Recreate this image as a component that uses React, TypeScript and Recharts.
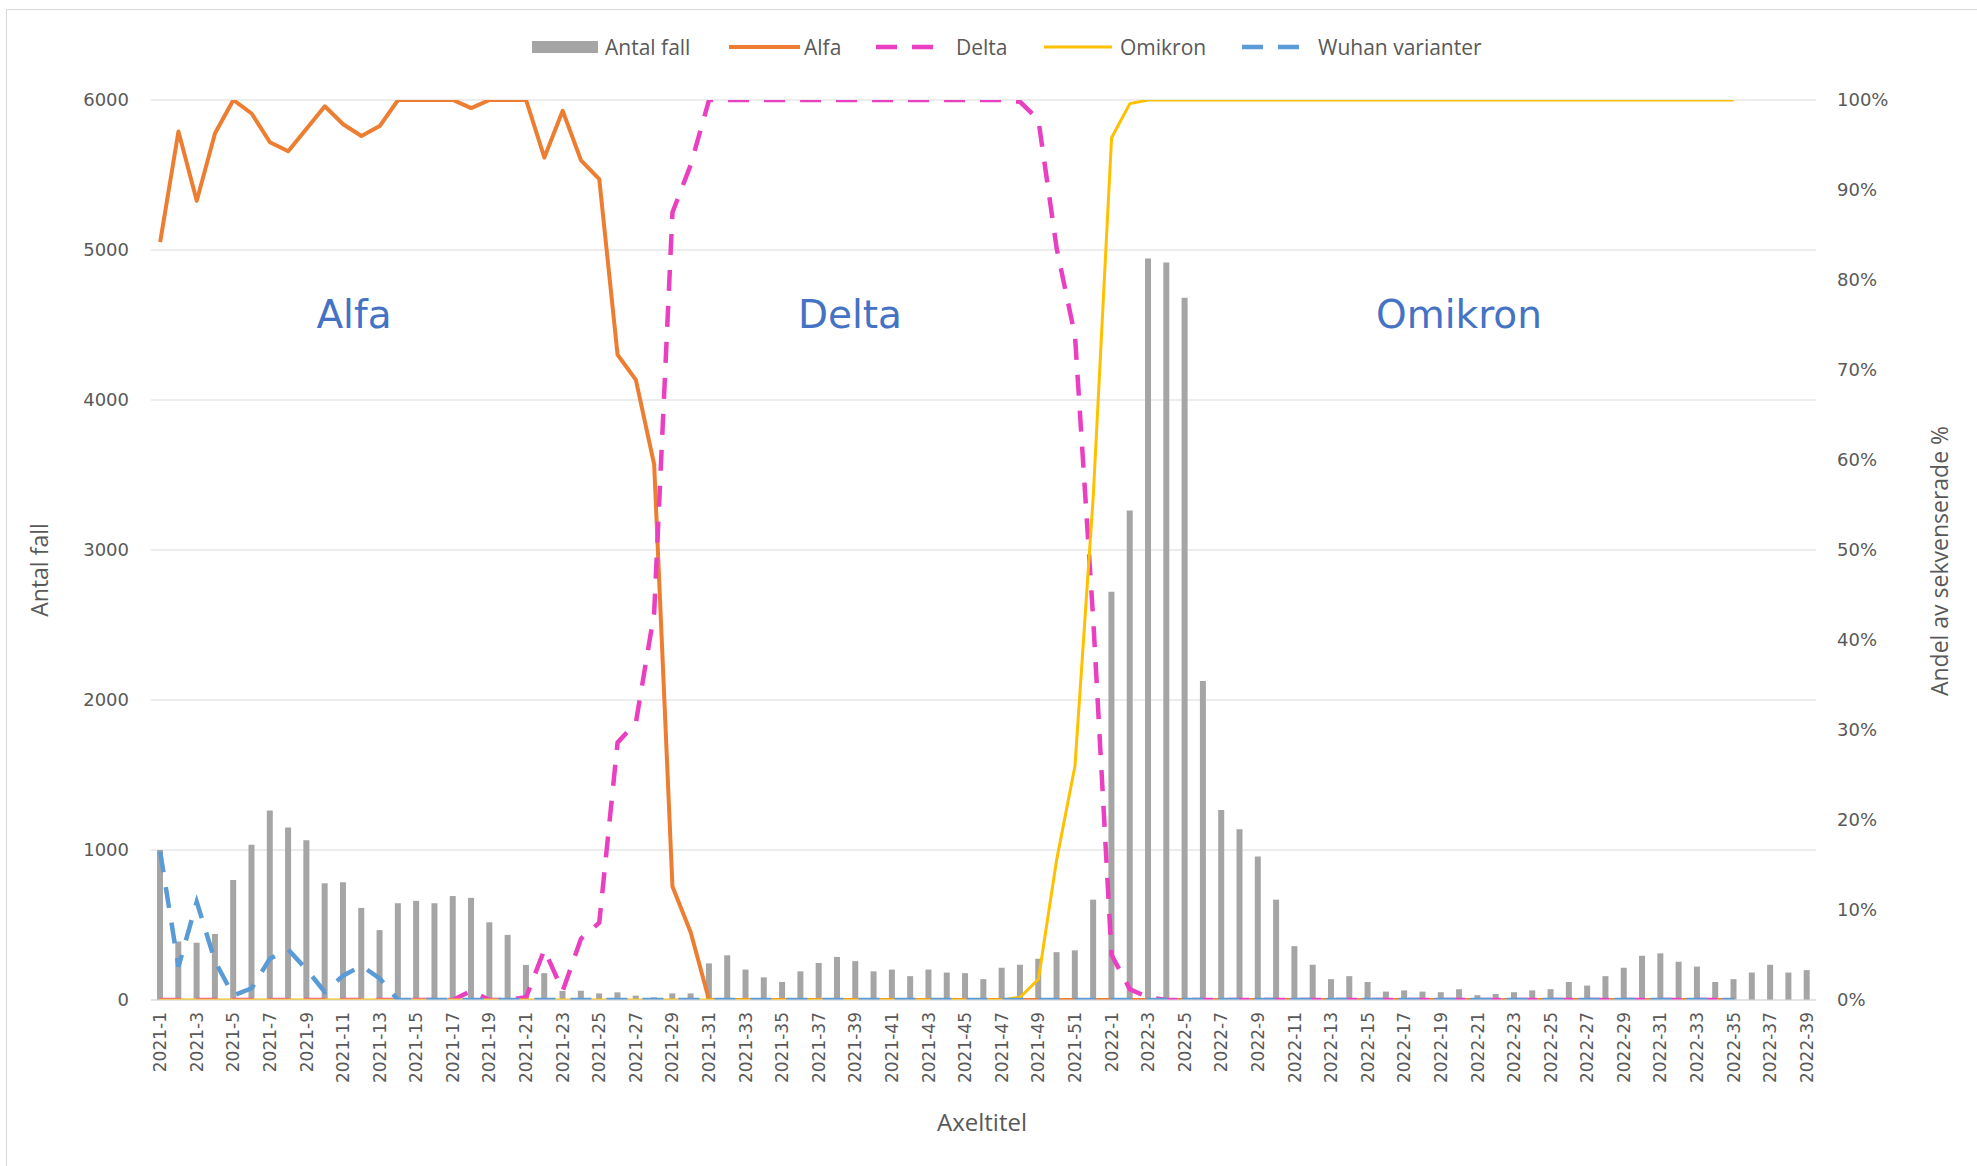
import React from 'react';
import { ComposedChart, Bar, Line, XAxis, YAxis, CartesianGrid, Legend } from 'recharts';

const weeks2021 = Array.from({ length: 52 }, (_, i) => `2021-${i + 1}`);
const weeks2022 = Array.from({ length: 39 }, (_, i) => `2022-${i + 1}`);
const categories = [...weeks2021, ...weeks2022];

const leftTicks = [0, 1000, 2000, 3000, 4000, 5000, 6000];
const rightTicks = [0, 10, 20, 30, 40, 50, 60, 70, 80, 90, 100];

const cases2021 = [
  1000, 390, 382, 440, 800, 1035, 1263, 1150, 1065, 778,
  785, 614, 466, 645, 661, 645, 693, 681, 518, 434,
  234, 179, 60, 62, 44, 51, 29, 18, 44, 44,
  244, 298, 203, 151, 120, 191, 247, 287, 259, 191,
  203, 159, 203, 183, 179, 139, 215, 235, 275, 319,
  331, 669,
];
const cases2022 = [
  2721, 3263, 4944, 4916, 4681, 2127, 1267, 1139, 956, 669,
  359, 235, 139, 159, 120, 56, 64, 56, 52, 72,
  32, 40, 52, 64, 72, 120, 96, 159, 215, 295,
  311, 255, 223, 120, 139, 183, 235, 183, 199,
];

const alfa2021 = [
  84.2, 96.5, 88.8, 96.3, 100, 98.5, 95.3, 94.3, 96.8, 99.3,
  97.3, 96.0, 97.1, 100, 100, 100, 100, 99.1, 100, 100,
  100, 93.6, 98.8, 93.3, 91.2, 71.7, 68.9, 59.5, 12.6, 7.5,
  0, 0, 0, 0, 0, 0, 0, 0, 0, 0,
  0, 0, 0, 0, 0, 0, 0, 0, 0, 0,
  0, 0,
];
const alfa2022 = [
  0, 0, 0, 0, 0, 0, 0, 0, 0, 0,
  0, 0, 0, 0, 0, 0, 0, 0, 0, 0,
  0, 0, 0, 0, 0, 0, 0, 0, 0, 0,
  0, 0, 0, 0, 0, null, null, null, null,
];

const delta2021 = [
  0, 0, 0, 0, 0, 0, 0, 0, 0, 0,
  0, 0, 0, 0, 0, 0, 0, 1.0, 0, 0,
  0.3, 5.6, 1.0, 6.8, 8.6, 28.6, 30.8, 43, 87.5, 92.8,
  100, 100, 100, 100, 100, 100, 100, 100, 100, 100,
  100, 100, 100, 100, 100, 100, 100, 99.8, 97.8, 83.5,
  73.8, 42.2,
];
const delta2022 = [
  5.0, 1.2, 0.3, 0, 0, 0, 0, 0, 0, 0,
  0, 0, 0, 0, 0, 0, 0, 0, 0, 0,
  0, 0, 0, 0, 0, 0, 0, 0, 0, 0,
  0, 0, 0, 0, 0, null, null, null, null,
];

const omikron2021 = [
  0, 0, 0, 0, 0, 0, 0, 0, 0, 0,
  0, 0, 0, 0, 0, 0, 0, 0, 0, 0,
  0, 0, 0, 0, 0, 0, 0, 0, 0, 0,
  0, 0, 0, 0, 0, 0, 0, 0, 0, 0,
  0, 0, 0, 0, 0, 0, 0, 0.3, 2.3, 15.6,
  26, 56,
];
const omikron2022 = [
  95.8, 99.6, 100, 100, 100, 100, 100, 100, 100, 100,
  100, 100, 100, 100, 100, 100, 100, 100, 100, 100,
  100, 100, 100, 100, 100, 100, 100, 100, 100, 100,
  100, 100, 100, 100, 100, null, null, null, null,
];

const wuhan2021 = [
  16.5, 3.7, 10.9, 4.3, 0.5, 1.3, 4.6, 5.6, 3.4, 0.9,
  2.7, 3.8, 2.4, 0, 0, 0, 0, 0, 0, 0,
  0, 0, 0, 0, 0, 0, 0, 0, 0, 0,
  0, 0, 0, 0, 0, 0, 0, 0, 0, 0,
  0, 0, 0, 0, 0, 0, 0, 0, 0, 0,
  0, 0,
];
const wuhan2022 = [
  0, 0, 0, 0, 0, 0, 0, 0, 0, 0,
  0, 0, 0, 0, 0, 0, 0, 0, 0, 0,
  0, 0, 0, 0, 0, 0, 0, 0, 0, 0,
  0, 0, 0, 0, 0, null, null, null, null,
];

const cases = [...cases2021, ...cases2022];
const alfa = [...alfa2021, ...alfa2022];
const delta = [...delta2021, ...delta2022];
const omikron = [...omikron2021, ...omikron2022];
const wuhan = [...wuhan2021, ...wuhan2022];

const data = categories.map((week, i) => ({
  week,
  antal: cases[i],
  alfa: alfa[i],
  delta: delta[i],
  omikron: omikron[i],
  wuhan: wuhan[i],
}));

const GRAY = '#A5A5A5';
const ORANGE = '#ED7D31';
const PINK = '#EA3FC0';
const YELLOW = '#FFC000';
const BLUE = '#5B9BD5';
const TEXT = '#595959';
const GRID = '#D9D9D9';
const DASH = '21 15';

const XTick = (props: any) => {
  const { x, y, payload } = props;
  return (
    <text
      x={x}
      y={y}
      transform={`rotate(-90, ${x}, ${y})`}
      textAnchor="end"
      dominantBaseline="central"
      fontFamily="DejaVu Sans"
      fontSize={17}
      fill={TEXT}
    >
      {payload.value}
    </text>
  );
};

const legendItems = [
  { name: 'Antal fall', type: 'bar', color: GRAY, sx: 0, tx: 73 },
  { name: 'Alfa', type: 'line', color: ORANGE, sx: 197, tx: 272 },
  { name: 'Delta', type: 'dash', color: PINK, sx: 344, tx: 424 },
  { name: 'Omikron', type: 'thin', color: YELLOW, sx: 512, tx: 588 },
  { name: 'Wuhan varianter', type: 'dash', color: BLUE, sx: 710, tx: 786 },
];

const LegendContent = () => (
  <div style={{ position: 'relative', width: 960, height: 28, fontFamily: 'Open Sans', fontSize: 21, color: TEXT, whiteSpace: 'nowrap' }}>
    {legendItems.map((it) => (
      <React.Fragment key={it.name}>
        <svg width={72} height={14} style={{ position: 'absolute', left: it.sx, top: 7 }}>
          {it.type === 'bar' && <rect x={0} y={1} width={66} height={12} fill={it.color} />}
          {it.type === 'line' && <line x1={0} y1={7} x2={71} y2={7} stroke={it.color} strokeWidth={4} />}
          {it.type === 'thin' && <line x1={0} y1={7} x2={68} y2={7} stroke={it.color} strokeWidth={3} />}
          {it.type === 'dash' && <line x1={0} y1={7} x2={57} y2={7} stroke={it.color} strokeWidth={4.5} strokeDasharray="21 15" />}
        </svg>
        <span style={{ position: 'absolute', left: it.tx, top: 0, lineHeight: '28px' }}>{it.name}</span>
      </React.Fragment>
    ))}
  </div>
);

export default function App() {
  return (
    <div style={{ position: 'absolute', left: 0, top: 0, width: 1977, height: 1166, background: '#fff', overflow: 'hidden' }}>
      <div style={{ position: 'absolute', left: 6, top: 9, width: 2000, height: 1200, borderTop: `1px solid ${GRID}`, borderLeft: `1px solid ${GRID}` }} />
      <div style={{ position: 'absolute', left: 0, top: 0 }}>
        <ComposedChart width={1977} height={1166} data={data} margin={{ top: 100, right: 61, bottom: 46, left: 51 }}>
          <CartesianGrid yAxisId="left" vertical={false} stroke={GRID} strokeWidth={1.2} />
          <XAxis
            dataKey="week"
            interval={1}
            height={120}
            tick={<XTick />}
            tickLine={false}
            tickSize={6}
            tickMargin={6}
            axisLine={{ stroke: GRID, strokeWidth: 1.2 }}
          />
          <YAxis
            yAxisId="left"
            orientation="left"
            width={100}
            domain={[0, 6000]}
            ticks={leftTicks}
            allowDataOverflow
            axisLine={false}
            tickLine={false}
            tickMargin={16}
            tick={{ fontFamily: 'DejaVu Sans', fontSize: 18, fill: TEXT }}
          />
          <YAxis
            yAxisId="right"
            orientation="right"
            width={100}
            domain={[0, 100]}
            ticks={rightTicks}
            allowDataOverflow
            axisLine={false}
            tickLine={false}
            tickMargin={15}
            tickFormatter={(v: number) => `${v}%`}
            tick={{ fontFamily: 'DejaVu Sans', fontSize: 18, fill: TEXT, textAnchor: 'start' }}
          />
          <Legend
            layout="horizontal"
            verticalAlign="middle"
            align="center"
            content={<LegendContent />}
            wrapperStyle={{ top: 33, left: 532, width: 960, height: 28 }}
          />
          <Bar yAxisId="left" dataKey="antal" name="Antal fall" fill={GRAY} barSize={6} isAnimationActive={false} />
          <Line yAxisId="right" dataKey="alfa" name="Alfa" stroke={ORANGE} strokeWidth={4} dot={false} activeDot={false} strokeLinejoin="round" isAnimationActive={false} />
          <Line yAxisId="right" dataKey="delta" name="Delta" stroke={PINK} strokeWidth={4.5} strokeDasharray={DASH} dot={false} activeDot={false} isAnimationActive={false} />
          <Line yAxisId="right" dataKey="omikron" name="Omikron" stroke={YELLOW} strokeWidth={3} dot={false} activeDot={false} strokeLinejoin="round" isAnimationActive={false} />
          <Line yAxisId="right" dataKey="wuhan" name="Wuhan varianter" stroke={BLUE} strokeWidth={4.5} strokeDasharray={DASH} dot={false} activeDot={false} isAnimationActive={false} />
          <text x={354} y={314} textAnchor="middle" dominantBaseline="central" fontFamily="DejaVu Sans" fontSize={39} fill="#4472C4">Alfa</text>
          <text x={850} y={314} textAnchor="middle" dominantBaseline="central" fontFamily="DejaVu Sans" fontSize={39} fill="#4472C4">Delta</text>
          <text x={1459} y={314} textAnchor="middle" dominantBaseline="central" fontFamily="DejaVu Sans" fontSize={39} fill="#4472C4">Omikron</text>
          <text x={39} y={570} transform="rotate(-90, 39, 570)" textAnchor="middle" dominantBaseline="central" fontFamily="Open Sans" fontSize={23} fill={TEXT}>Antal fall</text>
          <text x={1939} y={561} transform="rotate(-90, 1939, 561)" textAnchor="middle" dominantBaseline="central" fontFamily="Open Sans" fontSize={23} fill={TEXT}>Andel av sekvenserade %</text>
          <text x={982} y={1121} textAnchor="middle" dominantBaseline="central" fontFamily="Open Sans" fontSize={24} fill={TEXT}>Axeltitel</text>
        </ComposedChart>
      </div>
    </div>
  );
}
